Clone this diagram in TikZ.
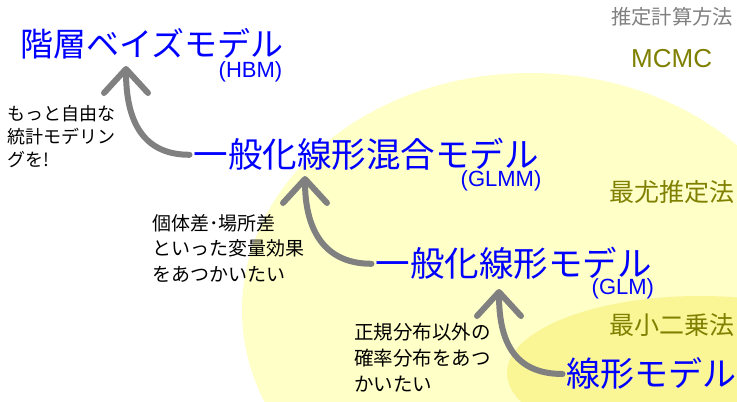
\documentclass[tikz,border=0pt]{standalone}
\usepackage{fontspec}
\setmainfont{Liberation Sans}
\newfontfamily\jp{Noto Sans CJK JP}
\usetikzlibrary{arrows.meta}
\definecolor{bigyellow}{RGB}{255,255,200}
\definecolor{smallyellow}{RGB}{250,246,150}
\definecolor{modelblue}{RGB}{0,0,255}
\definecolor{methodolive}{RGB}{128,128,0}
\definecolor{headgray}{RGB}{128,128,128}
\definecolor{arrowgray}{RGB}{128,128,128}
\tikzset{
  model/.style={anchor=base west, inner sep=0pt, text=modelblue, font=\jp\fontsize{34.5}{40}\selectfont},
  abbr/.style={anchor=base west, inner sep=0pt, text=modelblue, font=\fontsize{22}{26}\selectfont},
  method/.style={anchor=base west, inner sep=0pt, text=methodolive, font=\jp\fontsize{25}{30}\selectfont},
  note/.style={anchor=base west, inner sep=0pt, align=left, text=black},
  uparrow/.style={draw=arrowgray, line width=6pt, line cap=round,
    -{Straight Barb[length=24pt,width=44pt,round]}},
}
\begin{document}
\begin{tikzpicture}[x=1pt,y=-1pt]
\useasboundingbox (0,0) rectangle (737,402);
\fill[white] (0,0) rectangle (737,402);
\begin{scope}
  \clip (0,0) rectangle (737,402);
  \fill[bigyellow] (530,310) ellipse [x radius=288pt, y radius=237pt];
  \fill[smallyellow] (700,373) ellipse [x radius=193pt, y radius=77pt];
\end{scope}

% headings
\node[anchor=base west, inner sep=0pt, text=headgray, font=\jp\fontsize{20.3}{24}\selectfont] (head) at (611,24) {推定計算方法};
\node[anchor=base west, inner sep=0pt, text=methodolive, font=\fontsize{26}{30}\selectfont] (mcmc) at (631,67) {MCMC};
\node[method] (mle) at (609,201.5) {最尤推定法};
\node[method] (ols) at (609,334.5) {最小二乗法};

% models
\node[model, font=\jp\fontsize{33}{40}\selectfont] (hbm) at (20.5,56) {階層ベイズモデル};
\node[abbr] (hbmabbr) at (218.5,77) {(HBM)};
\node[model] (glmm) at (193.5,167) {一般化線形混合モデル};
\node[abbr] (glmmabbr) at (460.5,186) {(GLMM)};
\node[model] (glm) at (375.5,276) {一般化線形モデル};
\node[abbr] (glmabbr) at (591.5,294) {(GLM)};
\node[model, font=\jp\fontsize{34}{40}\selectfont] (lm) at (566.5,386) {線形モデル};

% notes (anchor on the baseline of the last line)
\node[note, font=\jp\fontsize{18}{23}\selectfont] (note1) at (7,166) {もっと自由な\\統計モデリン\\グを!};
\node[note, font=\jp\fontsize{19}{25.5}\selectfont] (note2) at (152,281) {個体差･場所差\\といった変量効果\\をあつかいたい};
\node[note, font=\jp\fontsize{19.5}{26}\selectfont] (note3) at (354,391) {正規分布以外の\\確率分布をあつ\\かいたい};

% arrows
\coordinate (tip1) at (126,66);
\coordinate (tip2) at (305,176);
\coordinate (tip3) at (499,289);
\draw[uparrow] ([xshift=-4pt,yshift=-1pt]glmm.west) .. controls +(-50,0) and +(0,50) .. (tip1);
\draw[uparrow] ([xshift=-4pt,yshift=-1pt]glm.west) .. controls +(-50,0) and +(0,50) .. (tip2);
\draw[uparrow] ([xshift=-4pt,yshift=-1pt]lm.west) .. controls +(-50,0) and +(0,50) .. (tip3);
\end{tikzpicture}
\end{document}
